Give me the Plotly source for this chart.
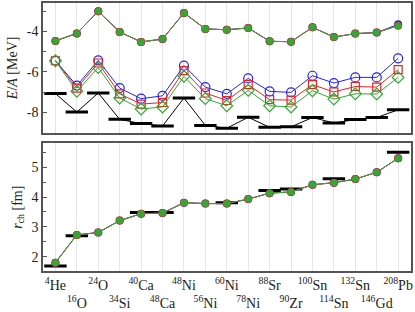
import plotly.graph_objects as go
from plotly.subplots import make_subplots

nuclei = ["<sup>4</sup>He", "<sup>16</sup>O", "<sup>24</sup>O", "<sup>34</sup>Si", "<sup>40</sup>Ca",
          "<sup>48</sup>Ca", "<sup>48</sup>Ni", "<sup>56</sup>Ni", "<sup>60</sup>Ni", "<sup>78</sup>Ni",
          "<sup>88</sup>Sr", "<sup>90</sup>Zr", "<sup>100</sup>Sn", "<sup>114</sup>Sn", "<sup>132</sup>Sn",
          "<sup>146</sup>Gd", "<sup>208</sup>Pb"]

# Binding energy per nucleon (MeV)
ea_exp = [-7.07, -7.98, -7.04, -8.34, -8.55, -8.67, -7.29, -8.64, -8.78, -8.24,
          -8.73, -8.71, -8.25, -8.52, -8.35, -8.25, -7.87]
ea_blue_open = [-5.45, -6.68, -5.43, -6.80, -7.32, -7.18, -5.69, -6.75, -7.08, -6.32,
                -6.96, -7.01, -6.19, -6.55, -6.27, -6.27, -5.33]
ea_red_open = [-5.45, -6.80, -5.56, -7.08, -7.59, -7.51, -5.94, -7.04, -7.41, -6.63,
               -7.37, -7.39, -6.63, -6.99, -6.72, -6.75, -5.89]
ea_green_open = [-5.45, -6.96, -5.78, -7.29, -7.83, -7.73, -6.22, -7.32, -7.67, -6.91,
                 -7.67, -7.73, -6.93, -7.34, -7.08, -7.09, -6.27]
ea_blue_fill = [-4.47, -4.10, -3.01, -4.03, -4.52, -4.38, -3.09, -3.88, -3.92, -3.83,
                -4.49, -4.51, -3.80, -4.28, -4.11, -4.06, -3.65]
ea_red_fill = [-4.47, -4.10, -3.01, -4.03, -4.52, -4.38, -3.09, -3.88, -3.92, -3.83,
               -4.49, -4.51, -3.80, -4.28, -4.11, -4.06, -3.72]
ea_green_fill = [-4.47, -4.10, -3.01, -4.03, -4.52, -4.38, -3.09, -3.88, -3.92, -3.83,
                 -4.49, -4.51, -3.80, -4.28, -4.11, -4.06, -3.72]

# Charge radii (fm)
rch_calc = [1.80, 2.73, 2.81, 3.21, 3.44, 3.46, 3.81, 3.78, 3.78, 3.93,
            4.13, 4.17, 4.41, 4.48, 4.60, 4.83, 5.30]
rch_exp_nuclei = [0, 1, 4, 5, 8, 10, 11, 13, 16]
rch_exp = [1.69, 2.70, 3.48, 3.48, 3.81, 4.22, 4.27, 4.61, 5.50]

idx = list(range(len(nuclei)))
ticktext = [n if i % 2 == 0 else " <br>" + n for i, n in enumerate(nuclei)]

BLUE = "#2424f0"
RED = "#e52222"
GREEN = "#33a833"
FONT = "Liberation Serif"

fig = make_subplots(rows=2, cols=1, shared_xaxes=False, vertical_spacing=0.04)

# --- top panel ---
fig.add_trace(go.Scatter(x=idx, y=ea_exp, mode="lines+markers",
                         line=dict(color="black", width=1),
                         marker=dict(symbol="line-ew", size=16, line=dict(color="black", width=3))),
              row=1, col=1)
fig.add_trace(go.Scatter(x=idx, y=ea_blue_open, mode="lines+markers",
                         line=dict(color=BLUE, width=1),
                         marker=dict(symbol="circle-open", size=9, color=BLUE, line=dict(width=1.2))),
              row=1, col=1)
fig.add_trace(go.Scatter(x=idx, y=ea_red_open, mode="lines+markers",
                         line=dict(color=RED, width=1),
                         marker=dict(symbol="square-open", size=8, color=RED, line=dict(width=1.2))),
              row=1, col=1)
fig.add_trace(go.Scatter(x=idx, y=ea_green_open, mode="lines+markers",
                         line=dict(color=GREEN, width=1),
                         marker=dict(symbol="diamond-open", size=9, color=GREEN, line=dict(width=1.2))),
              row=1, col=1)
fig.add_trace(go.Scatter(x=idx, y=ea_blue_fill, mode="lines+markers",
                         line=dict(color=BLUE, width=1),
                         marker=dict(symbol="circle", size=8, color=BLUE)),
              row=1, col=1)
fig.add_trace(go.Scatter(x=idx, y=ea_red_fill, mode="lines+markers",
                         line=dict(color=RED, width=1),
                         marker=dict(symbol="circle", size=8, color=RED)),
              row=1, col=1)
fig.add_trace(go.Scatter(x=idx, y=ea_green_fill, mode="lines+markers",
                         line=dict(color=GREEN, width=1),
                         marker=dict(symbol="circle", size=7, color=GREEN)),
              row=1, col=1)

# --- bottom panel ---
fig.add_trace(go.Scatter(x=rch_exp_nuclei, y=rch_exp, mode="markers",
                         marker=dict(symbol="line-ew", size=16, line=dict(color="black", width=3))),
              row=2, col=1)
fig.add_trace(go.Scatter(x=idx, y=rch_calc, mode="lines+markers",
                         line=dict(color=BLUE, width=1),
                         marker=dict(symbol="circle", size=8, color=BLUE)),
              row=2, col=1)
fig.add_trace(go.Scatter(x=idx, y=rch_calc, mode="lines+markers",
                         line=dict(color=RED, width=1),
                         marker=dict(symbol="circle", size=8, color=RED)),
              row=2, col=1)
fig.add_trace(go.Scatter(x=idx, y=rch_calc, mode="lines+markers",
                         line=dict(color=GREEN, width=1),
                         marker=dict(symbol="circle", size=7, color=GREEN)),
              row=2, col=1)

axis_common = dict(showline=True, linecolor="#555555", linewidth=1.5, mirror=True, zeroline=False)

fig.update_xaxes(range=[-0.58, 16.6], tickvals=idx, showgrid=True, gridcolor="#e6e6e6", gridwidth=1,
                 ticks="", automargin=False, **axis_common)
fig.update_xaxes(showticklabels=False, row=1, col=1)
fig.update_xaxes(ticktext=ticktext, showticklabels=True, tickangle=0,
                 tickfont=dict(family=FONT, size=14, color="#222"), row=2, col=1)

fig.update_yaxes(showgrid=False, ticks="inside", ticklen=4, tickcolor="#555555",
                 tickfont=dict(family=FONT, size=14, color="#222"), automargin=False, **axis_common)
fig.update_yaxes(range=[-9.0, -2.6], tickvals=[-8, -6, -4], ticktext=["-8", "-6", "-4"],
                 minor=dict(tickvals=[-9, -7, -5, -3], ticks="inside", ticklen=3, tickcolor="#555555"),
                 title=dict(text="<i>E</i>/<i>A</i> [MeV]", font=dict(family=FONT, size=14, color="#222"),
                            standoff=6),
                 row=1, col=1)
fig.update_yaxes(range=[1.52, 5.8], tickvals=[2, 3, 4, 5],
                 minor=dict(tickvals=[1.5, 2.5, 3.5, 4.5, 5.5], ticks="inside", ticklen=3, tickcolor="#555555"),
                 title=dict(text="<i>r</i><sub>ch</sub> [fm]", font=dict(family=FONT, size=14, color="#222"),
                            standoff=6),
                 row=2, col=1)

fig.update_layout(
    width=415, height=312,
    margin=dict(l=43, r=4, t=3, b=41),
    plot_bgcolor="white", paper_bgcolor="white",
    showlegend=False,
)
fig.layout.yaxis.domain = [0.516, 1.0]
fig.layout.yaxis2.domain = [0.0, 0.4765]

fig.write_html("out.html", config={"displayModeBar": False},
               post_script="document.body.style.margin='0';")
